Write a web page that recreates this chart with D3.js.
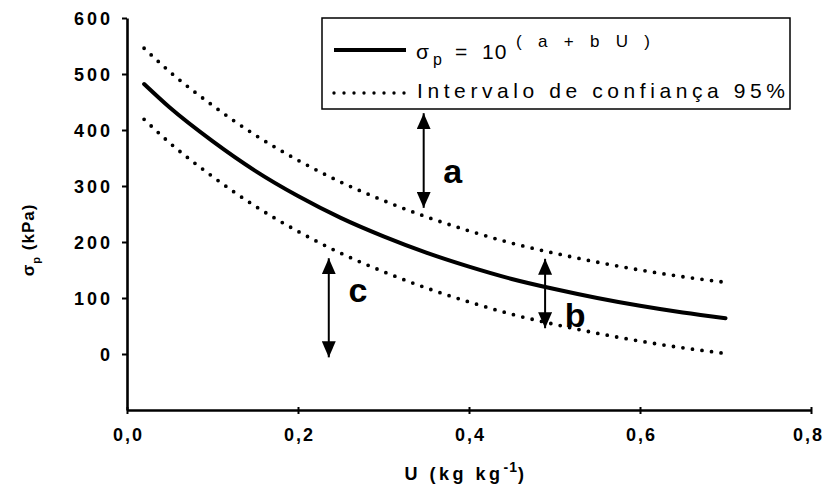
<!DOCTYPE html>
<html>
<head>
<meta charset="utf-8">
<script src="https://cdn.jsdelivr.net/npm/d3@7/dist/d3.min.js"></script>
<style>
  html, body { margin: 0; padding: 0; background: #fff; }
  svg { display: block; font-family: "Liberation Sans", Arial, sans-serif; }
</style>
</head>
<body>
<svg id="chart" width="825" height="495"></svg>
<script>
// ---- data ----
const U = [0.02, 0.05, 0.10, 0.15, 0.20, 0.25, 0.30, 0.35, 0.40, 0.45, 0.50, 0.55, 0.60, 0.65, 0.70];
const sigmaFit   = [482, 440, 380, 327, 282, 243, 210, 181, 156, 134, 116, 100, 86, 74, 64];
const sigmaUpper = [546, 504, 444, 391, 346, 307, 274, 245, 220, 198, 180, 164, 150, 138, 128];
const sigmaLower = [419, 377, 317, 264, 219, 180, 147, 118, 93, 71, 53, 37, 23, 11, 1];
const xTicks = [0, 0.2, 0.4, 0.6, 0.8];
const yTicks = [0, 100, 200, 300, 400, 500, 600];
const legendLabels = ["Intervalo de confiança 95%"];
// annotation arrows: [U, from value, to value]
const arrowNames = ["a", "b", "c"];
const arrowU    = [0.347, 0.489, 0.236];
const arrowTop  = [430, 170, 171];
const arrowBot  = [261, 46, -6];
const labelU    = [0.381, 0.524, 0.270];
const labelV    = [305, 48, 93];

const svg = d3.select("#chart");
const x = d3.scaleLinear().domain([0, 0.8]).range([127, 811]);
const y = d3.scaleLinear().domain([-100, 600]).range([410, 18]);

// axes
const yAxis = d3.axisLeft(y).tickValues(yTicks).tickSize(5).tickSizeOuter(0).tickFormat(d3.format("d"));
const gy = svg.append("g").attr("transform", `translate(${x(0)},0)`).call(yAxis);
gy.select(".domain").attr("stroke", "#000").attr("stroke-width", 2.6);
gy.selectAll(".tick line").attr("stroke", "#000").attr("stroke-width", 2);
gy.selectAll(".tick text")
  .attr("x", -14).attr("dy", "0.36em")
  .style("font-size", "18px").style("font-weight", "bold").style("letter-spacing", "3px")
  .attr("fill", "#000");

const fmt = d => d3.format(".1f")(d).replace(".", ",");
const xAxis = d3.axisBottom(x).tickValues(xTicks).tickSize(4).tickSizeOuter(0).tickFormat(fmt);
const gx = svg.append("g").attr("transform", `translate(0,${y(-100)})`).call(xAxis);
gx.select(".domain").attr("stroke", "#000").attr("stroke-width", 2.6);
gx.selectAll(".tick line").attr("stroke", "#000").attr("stroke-width", 2).attr("y1", -3);
gx.selectAll(".tick text")
  .attr("y", 18).attr("dx", (d, i) => i === xTicks.length - 1 ? "-3px" : "1px")
  .style("font-size", "18px").style("font-weight", "bold").style("letter-spacing", "2px")
  .attr("fill", "#000");

// axis titles
const xt = svg.append("text")
  .attr("x", 466).attr("y", 480).attr("text-anchor", "middle")
  .style("font-size", "18px").style("font-weight", "bold").style("letter-spacing", "3.5px");
xt.append("tspan").text("U (kg kg");
xt.append("tspan").attr("dy", -8).style("font-size", "14px").style("letter-spacing", "1px").text("-1");
xt.append("tspan").attr("dy", 8).text(")");

const yt = svg.append("text")
  .attr("transform", "translate(34,240) rotate(-90)").attr("text-anchor", "middle")
  .style("font-size", "17px").style("font-weight", "bold").style("letter-spacing", "1px");
yt.append("tspan").text("σ");
yt.append("tspan").attr("dy", 6).style("font-size", "11px").text("p");
yt.append("tspan").attr("dy", -6).text(" (kPa)");

// curves
const line = vals => d3.line().x((d, i) => x(U[i])).y(d => y(d)).curve(d3.curveMonotoneX)(vals);
svg.append("path").attr("d", line(sigmaUpper)).attr("fill", "none").attr("stroke", "#000")
  .attr("stroke-width", 3.8).attr("stroke-linecap", "round").attr("stroke-dasharray", "0 9.6");
svg.append("path").attr("d", line(sigmaLower)).attr("fill", "none").attr("stroke", "#000")
  .attr("stroke-width", 3.8).attr("stroke-linecap", "round").attr("stroke-dasharray", "0 9.6");
svg.append("path").attr("d", line(sigmaFit)).attr("fill", "none").attr("stroke", "#000")
  .attr("stroke-width", 4).attr("stroke-linecap", "round");

// arrows
const defs = svg.append("defs");
defs.append("marker").attr("id", "head").attr("viewBox", "0 0 16 14")
  .attr("refX", 16).attr("refY", 7).attr("markerWidth", 16).attr("markerHeight", 14)
  .attr("markerUnits", "userSpaceOnUse").attr("orient", "auto-start-reverse")
  .append("path").attr("d", "M0,0 L16,7 L0,14 Z").attr("fill", "#000");
arrowNames.forEach((n, i) => {
  svg.append("line")
    .attr("x1", x(arrowU[i])).attr("x2", x(arrowU[i]))
    .attr("y1", y(arrowTop[i])).attr("y2", y(arrowBot[i]))
    .attr("stroke", "#000").attr("stroke-width", 2)
    .attr("marker-start", "url(#head)").attr("marker-end", "url(#head)");
  svg.append("text").attr("x", x(labelU[i])).attr("y", y(labelV[i]))
    .attr("text-anchor", "middle").style("font-size", "34px").style("font-weight", "bold")
    .text(n);
});

// legend
svg.append("rect").attr("x", 322).attr("y", 18).attr("width", 468).attr("height", 91)
  .attr("fill", "#fff").attr("stroke", "#000").attr("stroke-width", 1.5);
svg.append("line").attr("x1", 334).attr("x2", 406).attr("y1", 50).attr("y2", 50)
  .attr("stroke", "#000").attr("stroke-width", 4);
svg.append("line").attr("x1", 334).attr("x2", 406).attr("y1", 93).attr("y2", 93)
  .attr("stroke", "#000").attr("stroke-width", 3.4).attr("stroke-linecap", "round").attr("stroke-dasharray", "0 10");
const l1 = svg.append("text").style("font-size", "21px");
l1.append("tspan").attr("x", 416).attr("y", 59).text("σ");
l1.append("tspan").attr("x", 433).attr("y", 65).style("font-size", "16px").text("p");
l1.append("tspan").attr("x", 455).attr("y", 59).text("=");
l1.append("tspan").attr("x", 482).attr("y", 59).style("letter-spacing", "1px").text("10");
l1.append("tspan").attr("x", 516).attr("y", 47).style("font-size", "17px")
  .attr("textLength", 134).attr("lengthAdjust", "spacing").text("( a + b  U )");
svg.append("text").attr("x", 417).attr("y", 98).style("font-size", "21px")
  .attr("textLength", 368).attr("lengthAdjust", "spacing").text(legendLabels[0]);
</script>
</body>
</html>
